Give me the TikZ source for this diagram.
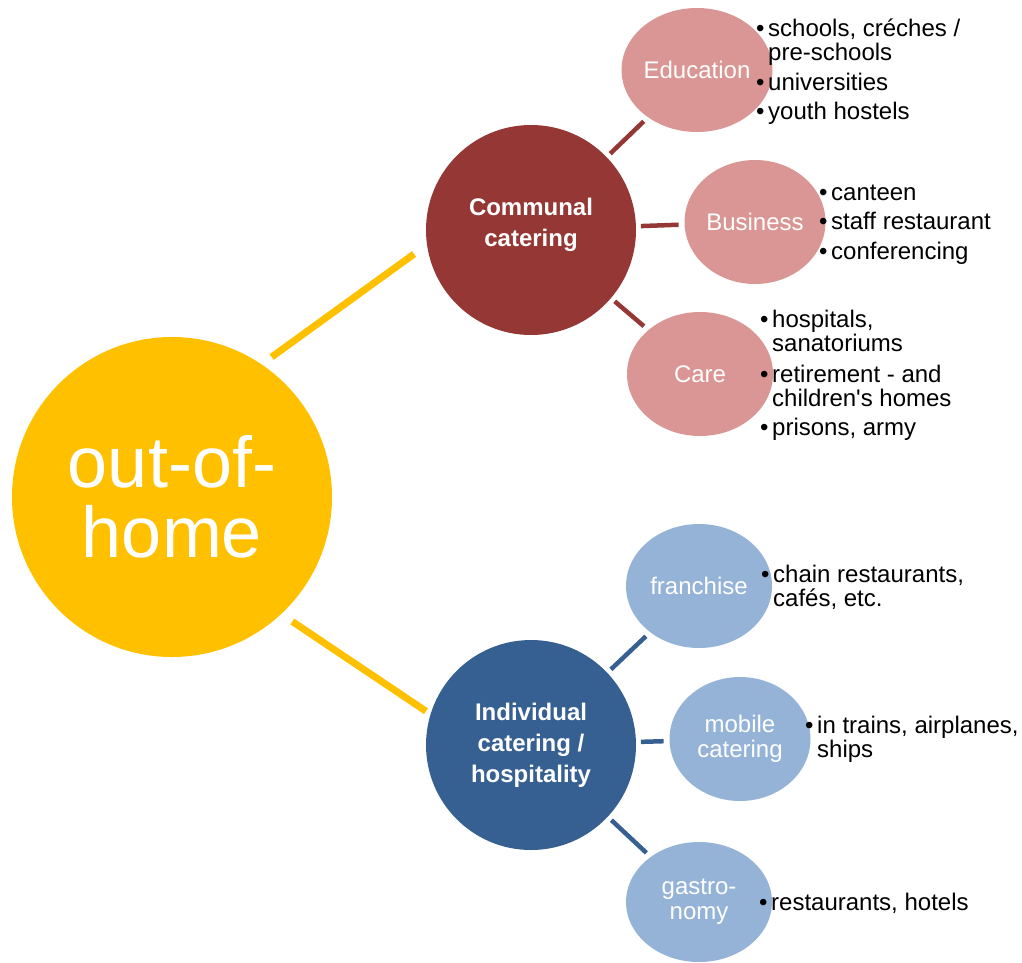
\documentclass[tikz,border=0pt]{standalone}
\usepackage{fontspec}
\setmainfont{Liberation Sans}
\newfontfamily\straightfont{Liberation Sans}
\usetikzlibrary{shapes.geometric}

\definecolor{oohyellow}{HTML}{FFC000}
\definecolor{commred}{HTML}{953735}
\definecolor{commlight}{HTML}{D99694}
\definecolor{indivblue}{HTML}{376092}
\definecolor{indivlight}{HTML}{95B3D7}

\newcommand{\bull}{\makebox[12pt][l]{\textbullet}}

\begin{document}
\begin{tikzpicture}[x=1pt,y=-1pt,
		hub/.style={circle,inner sep=0pt,outer sep=0pt,minimum size=210pt,text=white,align=center,font=\fontsize{24}{31}\selectfont\bfseries},
		leaf/.style={ellipse,inner sep=0pt,outer sep=0pt,minimum width=146pt,minimum height=124pt,text=white,align=center,font=\fontsize{24}{25}\selectfont},
		items/.style={anchor=base west,inner sep=0pt,font=\fontsize{24}{24}\selectfont},
		bigline/.style={oohyellow,line width=7pt},
		twig/.style={line width=4.5pt,shorten <=5pt,shorten >=6pt}]
			\useasboundingbox (0,0) rectangle (1022,962);

			% centre
			\node[circle,fill=oohyellow,inner sep=0pt,outer sep=0pt,minimum size=320pt,text=white,align=center,font=\fontsize{72}{70}\selectfont] (ooh) at (172,497) {out-of-\\home};

			% communal catering
			\node[hub,fill=commred,text depth=15pt] (comm) at (531,230) {Communal\\catering};
			\node[leaf,fill=commlight] (edu) at (697,70) {Education};
			\node[leaf,fill=commlight,minimum width=141pt] (bus) at (755,222) {Business};
			\node[leaf,fill=commlight] (care) at (700,374) {Care};

			% individual catering
			\node[hub,fill=indivblue] (indiv) at (531,745) {Individual\\catering /\\hospitality};
			\node[leaf,fill=indivlight] (fran) at (699,586) {franchise};
			\node[leaf,fill=indivlight,minimum width=141pt] (mob) at (740,739) {mobile\\catering};
			\node[leaf,fill=indivlight,minimum height=120pt] (gas) at (699,902) {gastro-\\nomy};

			% connectors
			\draw[bigline,shorten <=12.5pt,shorten >=16pt] (ooh.56.7) -- (comm.188.6);
			\draw[bigline,shorten <=13.5pt,shorten >=5.6pt] (ooh.313.3) -- (indiv.163);
			\draw[twig,commred] (comm) -- (edu);
			\draw[twig,commred] (comm) -- (bus);
			\draw[twig,commred] (comm) -- (care);
			\draw[twig,indivblue] (indiv) -- (fran);
			\draw[twig,indivblue] (indiv) -- (mob);
			\draw[twig,indivblue] (indiv) -- (gas);

			% lists
			\node[items] (eduitems) at (756,36) {\begin{tabular}[t]{@{}l@{}l@{}}\bull&schools, créches /\\&pre-schools\\[5pt]\bull&universities\\[5pt]\bull&youth hostels\end{tabular}};
			\node[items] (busitems) at (819,200) {\begin{tabular}[t]{@{}l@{}l@{}}\bull&canteen\\[5pt]\bull&staff restaurant\\[5pt]\bull&conferencing\end{tabular}};
			\node[items] (careitems) at (760,327) {\begin{tabular}[t]{@{}l@{}l@{}}\bull&hospitals,\\&sanatoriums\\[6pt]\bull&retirement - and\\&children{\straightfont'}s homes\\[4pt]\bull&prisons, army\end{tabular}};
			\node[items] (franitems) at (761,582) {\begin{tabular}[t]{@{}l@{}l@{}}\bull&chain restaurants,\\&cafés, etc.\end{tabular}};
			\node[items] (mobitems) at (805,733) {\begin{tabular}[t]{@{}l@{}l@{}}\bull&in trains, airplanes,\\&ships\end{tabular}};
			\node[items] (gasitems) at (759,910) {\bull restaurants, hotels};
		\end{tikzpicture}
\end{document}
